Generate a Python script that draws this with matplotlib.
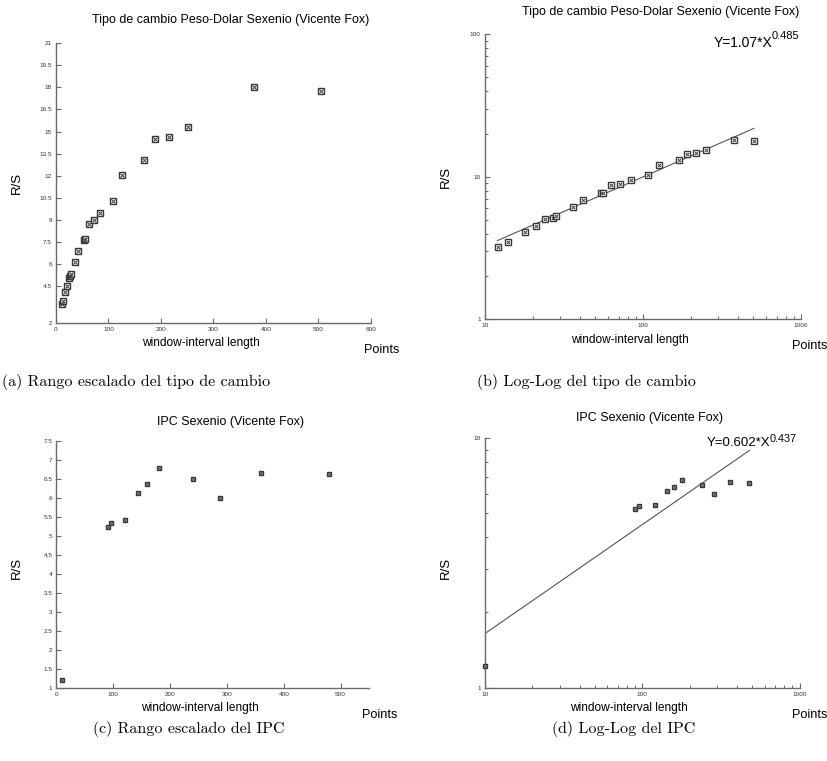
import numpy as np
import matplotlib
matplotlib.use("Agg")
import matplotlib.pyplot as plt

plt.rcParams["font.family"] = ["Liberation Sans", "DejaVu Sans"]

# !Data
window_fx = [12, 14, 18, 21, 24, 27, 28, 36, 42, 54, 56, 63, 72, 84, 108, 126,
             168, 189, 216, 252, 378, 504]
rs_fx = [3.24, 3.46, 4.09, 4.51, 5.03, 5.18, 5.32, 6.13, 6.90, 7.65, 7.71, 8.70,
         8.97, 9.48, 10.25, 12.03, 13.03, 14.47, 14.65, 15.30, 18.00, 17.77]
coef_fx, hurst_fx = 1.07, 0.485

window_ipc = [10, 90, 96, 120, 144, 160, 180, 240, 288, 360, 480]
rs_ipc = [1.22, 5.22, 5.33, 5.40, 6.12, 6.35, 6.78, 6.50, 5.98, 6.65, 6.63]
coef_ipc, hurst_ipc = 0.602, 0.437

title_fx = "Tipo de cambio Peso-Dolar Sexenio (Vicente Fox)"
title_ipc = "IPC Sexenio (Vicente Fox)"
captions = ["(a) Rango escalado del tipo de cambio", "(b) Log-Log del tipo de cambio",
            "(c) Rango escalado del IPC", "(d) Log-Log del IPC"]

yticks_a = [2, 4.5, 6, 7.5, 9, 10.5, 12, 13.5, 15, 16.5, 18, 19.5, 21]
ytick_labels_a = ["2", "4.5", "6", "7.5", "9", "10.5", "12", "13.5", "15", "16.5",
                  "18", "19.5", "21"]
yticks_c = [1, 1.5, 2, 2.5, 3, 3.5, 4, 4.5, 5, 5.5, 6, 6.5, 7, 7.5]
ytick_labels_c = ["1", "1.5", "2", "2.5", "3", "3.5", "4", "4.5", "5", "5.5", "6",
                  "6.5", "7", "7.5"]

W, H = 828, 761
fig = plt.figure(figsize=(W / 100, H / 100), dpi=100)
fig.patch.set_facecolor("white")

GRAY = "#6a6a6a"
MK = "#383838"


def rect(left, top, right, bottom):
    return [left / W, 1 - bottom / H, (right - left) / W, (bottom - top) / H]


def ftext(x, y, s, **kw):
    return fig.text(x / W, 1 - y / H, s, **kw)


def style_axes(ax):
    for side in ["top", "right"]:
        ax.spines[side].set_visible(False)
    for side in ["left", "bottom"]:
        ax.spines[side].set_color(GRAY)
        ax.spines[side].set_linewidth(1.0)
    ax.tick_params(which="major", direction="in", length=3.5, width=0.8,
                   color=GRAY, labelsize=4.6, labelcolor="#333333", pad=3)
    ax.tick_params(which="minor", direction="in", length=2.2, width=0.7, color=GRAY)


def scatter_marks(ax, x, y, ms):
    ax.plot(x, y, ls="none", marker="s", ms=ms, mfc="white", mec=MK, mew=1.0,
            clip_on=False, zorder=3)
    ax.plot(x, y, ls="none", marker="x", ms=ms * 0.55, mec=MK, mew=0.7,
            clip_on=False, zorder=4)


def labels(ax_left, ax_right, ax_bottom, title, title_xy, ylabel_xy):
    ftext(title_xy[0], title_xy[1], title, ha="center", va="center", fontsize=9)
    ftext(ylabel_xy[0], ylabel_xy[1], "R/S", ha="center", va="center",
          rotation=90, fontsize=9.5)
    ftext(ax_left + (ax_right - ax_left) / 2 - 13, ax_bottom + 20.5,
          "window-interval length", ha="center", va="center", fontsize=8.6)
    ftext(min(ax_right + 10.5, 810), ax_bottom + 27, "Points", ha="center",
          va="center", fontsize=9.2)


# !(a) rescaled range, exchange rate
ax_a = fig.add_axes(rect(56, 43.3, 371, 322.6))
style_axes(ax_a)
scatter_marks(ax_a, window_fx, rs_fx, 4.0)
ax_a.set_xlim(0, 600)
ax_a.set_ylim(2, 21)
ax_a.set_xticks(np.arange(0, 601, 100))
ax_a.set_yticks(yticks_a)
ax_a.set_yticklabels(ytick_labels_a)
labels(56, 371, 322.6, title_fx, (231, 20), (16.7, 183))

# !(b) log-log, exchange rate
ax_b = fig.add_axes(rect(485, 34.3, 801, 319.3))
style_axes(ax_b)
ax_b.set_xscale("log")
ax_b.set_yscale("log")
fit_x_fx = np.geomspace(window_fx[0], window_fx[-1], 50)
ax_b.plot(fit_x_fx, coef_fx * fit_x_fx ** hurst_fx, color="#555555", lw=0.8)
scatter_marks(ax_b, window_fx, rs_fx, 3.8)
ax_b.set_xlim(10, 1000)
ax_b.set_ylim(1, 100)
ax_b.set_xticks([10, 100, 1000])
ax_b.set_xticklabels(["10", "100", "1000"])
ax_b.set_yticks([1, 10, 100])
ax_b.set_yticklabels(["1", "10", "100"])
labels(485, 801, 319.3, title_fx, (661, 11.7), (445.7, 177))
ftext(772, 46.7, "Y=%.2f*X" % coef_fx, ha="right", va="baseline", fontsize=10)
ftext(772, 39.3, "%.3f" % hurst_fx, ha="left", va="baseline", fontsize=8)

# !(c) rescaled range, IPC
ax_c = fig.add_axes(rect(56.5, 440.5, 369, 688))
style_axes(ax_c)
scatter_marks(ax_c, window_ipc, rs_ipc, 3.3)
ax_c.set_xlim(0, 550)
ax_c.set_ylim(1, 7.5)
ax_c.set_xticks(np.arange(0, 501, 100))
ax_c.set_yticks(yticks_c)
ax_c.set_yticklabels(ytick_labels_c)
labels(56.5, 369, 688, title_ipc, (230.5, 421.7), (16.7, 567.7))

# !(d) log-log, IPC
ax_d = fig.add_axes(rect(485, 438.3, 799.5, 687.5))
style_axes(ax_d)
ax_d.set_xscale("log")
ax_d.set_yscale("log")
fit_x_ipc = np.geomspace(window_ipc[0], window_ipc[-1], 50)
ax_d.plot(fit_x_ipc, coef_ipc * fit_x_ipc ** hurst_ipc, color="#555555", lw=0.8)
scatter_marks(ax_d, window_ipc, rs_ipc, 3.3)
ax_d.set_xlim(10, 1000)
ax_d.set_ylim(1, 10)
ax_d.set_xticks([10, 100, 1000])
ax_d.set_xticklabels(["10", "100", "1000"])
ax_d.set_yticks([1, 10])
ax_d.set_yticklabels(["1", "10"])
labels(485, 799.5, 687.5, title_ipc, (649, 418), (445.7, 567.7))
ftext(770, 446.3, "Y=%.3f*X" % coef_ipc, ha="right", va="baseline", fontsize=9.5)
ftext(770, 441.5, "%.3f" % hurst_ipc, ha="left", va="baseline", fontsize=7.8)

for ax in [ax_b, ax_d]:
    ax.xaxis.set_minor_formatter(matplotlib.ticker.NullFormatter())
    ax.yaxis.set_minor_formatter(matplotlib.ticker.NullFormatter())

# !Captions (LaTeX-like serif)
cap_pos = [(136.5, 382), (586, 382), (189, 729), (624, 729)]
for cap, (cx, cy) in zip(captions, cap_pos):
    ftext(cx, cy, cap, ha="center", va="center", fontsize=11.5,
          family=["cmr10", "DejaVu Serif"])

fig.savefig("out.png", dpi=100)
